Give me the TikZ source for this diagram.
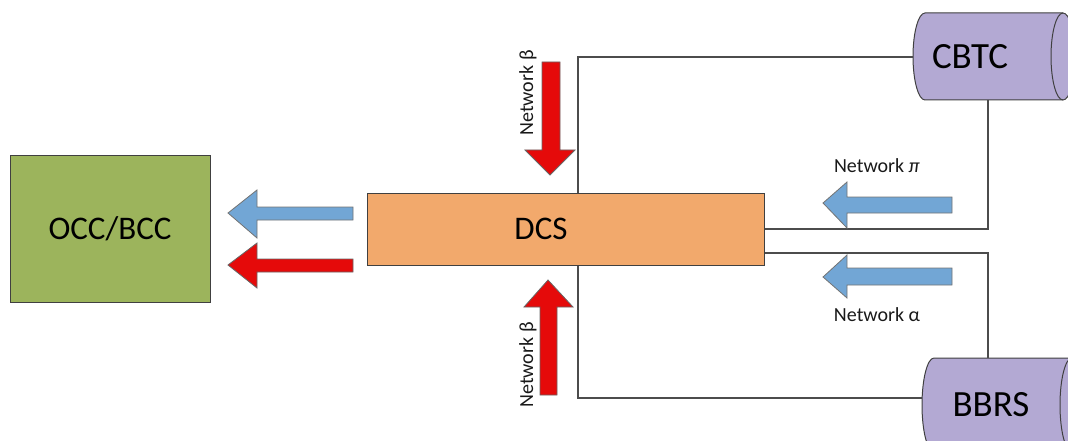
\documentclass[tikz,border=0pt]{standalone}
\usepackage{fontspec}
\setmainfont{Carlito}
\usetikzlibrary{positioning}

\definecolor{occgreen}{HTML}{9CB45C}
\definecolor{dcsorange}{HTML}{F2A96C}
\definecolor{dbpurple}{HTML}{B3A9D3}
\definecolor{flowblue}{HTML}{72A6D5}
\definecolor{flowred}{HTML}{E50A0A}

\tikzset{
  unit/.style={draw=black!75,line width=1pt,font=\fontsize{33}{33}\selectfont},
  store/.style={draw=black!75,line width=1pt,fill=dbpurple},
  storetext/.style={font=\fontsize{37}{37}\selectfont},
  link/.style={draw=black!70,line width=1.1pt},
  blueflow/.style={fill=flowblue,draw=black!55,line width=0.8pt},
  redflow/.style={fill=flowred,draw=black!60,line width=0.8pt},
  netlabel/.style={font=\fontsize{20}{20}\selectfont,text=black!90,inner sep=0pt}
}

% horizontal drum: left cap x, right cap x, centre y, half height
\newcommand{\drumshape}[4]{%
  \pgfmathsetmacro{\drumtop}{#3-#4}
  \pgfmathsetmacro{\drumbot}{#3+#4}
  \filldraw[store] (#1,\drumtop) -- (#2,\drumtop)
    arc[start angle=90,end angle=-90,x radius=12pt,y radius=#4pt]
    -- (#1,\drumbot)
    arc[start angle=270,end angle=90,x radius=12pt,y radius=#4pt] -- cycle;
  \draw[store,fill=none] (#2,\drumtop)
    arc[start angle=90,end angle=270,x radius=12pt,y radius=#4pt];
}

\begin{document}
\begin{tikzpicture}[x=1pt,y=-1pt]
  \useasboundingbox (0,0) rectangle (1068,441);

  % control centre and the data concentrator
  \node[unit,fill=occgreen,minimum width=200pt,minimum height=147pt] (occ) at (110,229) {OCC/BCC};
  \node[unit,fill=dcsorange,minimum width=397pt,minimum height=72pt] (dcs) at (566,229) {};
  \node[font=\fontsize{33}{33}\selectfont] (dcstext) at (541,229) {DCS};

  % the two subsystems feeding it
  \drumshape{925}{1063}{56.5}{43.5}
  \node[storetext] (cbtc) at (970,57) {CBTC};
  \coordinate (cbtcW) at (913,57);
  \coordinate (cbtcS) at (988,100);
  \drumshape{934}{1072}{405}{47}
  \node[storetext] (bbrs) at (991,405) {BBRS};
  \coordinate (bbrsW) at (922,398);
  \coordinate (bbrsN) at (988,358);

  % network links
  \draw[link] ([xshift=12pt]dcs.north) |- (cbtcW);
  \draw[link] ([xshift=12pt]dcs.south) |- (bbrsW);
  \draw[link] (dcs.east) -| (cbtcS);
  \draw[link] ([yshift=-24pt]dcs.east) -| (bbrsN);

  % flows towards OCC/BCC
  \draw[blueflow] (228,213) -- (257,190) -- (257,207) -- (353,207) -- (353,220) -- (257,220) -- (257,238) -- cycle;
  \draw[redflow] (228,265) -- (257,243) -- (257,259) -- (353,259) -- (353,272) -- (257,272) -- (257,288) -- cycle;

  % flows into DCS
  \draw[redflow] (550,175) -- (525,150) -- (542,150) -- (542,62) -- (560,62) -- (560,150) -- (575,150) -- cycle;
  \draw[redflow] (548,280) -- (573,307) -- (557,307) -- (557,395) -- (540,395) -- (540,307) -- (524,307) -- cycle;
  \draw[blueflow] (823,203) -- (847,182) -- (847,197) -- (952,197) -- (952,213) -- (847,213) -- (847,228) -- cycle;
  \draw[blueflow] (823,277) -- (847,255) -- (847,268) -- (952,268) -- (952,285) -- (847,285) -- (847,298) -- cycle;

  \node[netlabel,rotate=90] (betatop) at (528,93) {Network β};
  \node[netlabel,rotate=90] (betabot) at (528,365) {Network β};
  \node[netlabel] (pilabel) at (877,166) {Network \textit{π}};
  \node[netlabel] (alphalabel) at (877,315) {Network α};
\end{tikzpicture}
\end{document}
